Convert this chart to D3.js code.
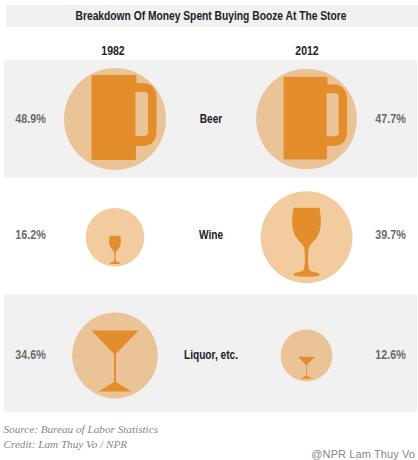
<!DOCTYPE html>
<html>
<head>
<meta charset="utf-8">
<title>Breakdown Of Money Spent Buying Booze At The Store</title>
<script src="https://cdn.jsdelivr.net/npm/d3@7/dist/d3.min.js"></script>
<style>
  html, body { margin: 0; padding: 0; background: #fff; }
  svg { display: block; }
  .cond { font-family: "Liberation Sans", sans-serif; font-weight: bold; }
  .source { font-family: "Liberation Serif", serif; font-style: italic; font-size: 11.2px; fill: #888; }
</style>
</head>
<body>
<svg id="chart" width="418" height="460"></svg>
<script>
const years = ["1982", "2012"];
const categories = ["Beer", "Wine", "Liquor, etc."];
const values1982 = [48.9, 16.2, 34.6];
const values2012 = [47.7, 39.7, 12.6];
const sourceLines = ["Source: Bureau of Labor Statistics", "Credit: Lam Thuy Vo / NPR"];

// Glyphs are drawn at the size of refValue, origin at bottom centre of the icon.
// They scale linearly with the value, the circles scale by area.
const icons = {
    "Beer": {
        refValue: 48.9,
        gap: 10,
        fillRule: "evenodd",
        d: "M-22.5,-85 L20,-85 Q21.5,-85 21.5,-83.5 L21.5,-77 L27,-77 Q41.5,-77 41.5,-62 L41.5,-29 Q41.5,-14 27,-14 L21,-14 L21,-1.5 Q21,0 19.5,0 L-22,0 Q-23.5,0 -23.5,-1.5 L-23.5,-83.5 Q-23.5,-85 -22.5,-85 Z " +
           "M20.5,-68 L20.5,-24 L29,-24 Q33,-24 33,-28 L33,-64 Q33,-68 29,-68 Z"
    },
    "Wine": {
        refValue: 39.7,
        gap: 7,
        d: "M-13,-68.5 L13,-68.5 C14.5,-58 15.5,-50 12,-42 C9,-35 3,-33 2,-27 C1.2,-18 1.5,-9 3,-6 C5,-4.5 9,-4 12,-3 Q14,-1.5 12,-0.3 Q7,0.5 0,0.5 Q-7,0.5 -12,-0.3 Q-14,-1.5 -12,-3 C-9,-4 -5,-4.5 -3,-6 C-1.5,-9 -1.2,-18 -2,-27 C-3,-33 -9,-35 -12,-42 C-15.5,-50 -14.5,-58 -13,-68.5 Z"
    },
    "Liquor, etc.": {
        refValue: 34.6,
        gap: 7,
        d: "M-23.5,-61 L23.5,-61 L1,-37.5 L1,-9.5 L16.5,0 L-16.5,0 L-1,-9.5 L-1,-37.5 Z"
    }
};

const titleText = "Breakdown Of Money Spent Buying Booze At The Store";
const orange = "#e38e2b";

const svg = d3.select("#chart");

const rowBand = d3.scaleBand().domain(categories).range([60, 412]);
const rowCenter = d3.scalePoint().domain(categories).range([119, 355.5]);
const labelBaseline = d3.scaleOrdinal().domain(categories).range([123, 239, 359]);
const yearX = d3.scalePoint().domain(years).range([115, 306.5]);
const headerX = d3.scalePoint().domain(years).range([113, 307]);
const radius = d3.scaleSqrt().domain([0, 48.9]).range([0, 51]);
const fmt = v => d3.format(".1f")(v) + "%";

// no condensed bold is installed, so squeeze the regular one sideways
const squeezed = (x, y, k) => "translate(" + x + "," + y + ") scale(" + k + ",1)";

// title band
svg.append("rect").attr("x", 6).attr("y", 5).attr("width", 412).attr("height", 22).attr("fill", "#f1f1f1");
svg.append("text").attr("class", "cond")
    .attr("transform", squeezed(211, 19.5, 0.79))
    .attr("text-anchor", "middle").attr("font-size", 13).attr("fill", "#222")
    .text(titleText);

// year headers
svg.selectAll(".year").data(years).enter().append("text")
    .attr("class", "cond year")
    .attr("transform", d => squeezed(headerX(d), 54.5, 0.84))
    .attr("text-anchor", "middle").attr("font-size", 12.5).attr("fill", "#222")
    .text(d => d);

// alternating row backgrounds
svg.selectAll(".row").data(categories.filter((d, i) => i % 2 === 0)).enter().append("rect")
    .attr("class", "row")
    .attr("x", 4).attr("width", 413)
    .attr("y", d => rowBand(d)).attr("height", rowBand.bandwidth())
    .attr("fill", "#f1f1f1");

// circles and glyphs
const cells = [];
categories.forEach((c, i) => {
    cells.push({ category: c, year: years[0], value: values1982[i] });
    cells.push({ category: c, year: years[1], value: values2012[i] });
});

svg.selectAll(".bubble").data(cells).enter().append("circle")
    .attr("class", "bubble")
    .attr("cx", d => yearX(d.year))
    .attr("cy", d => rowCenter(d.category))
    .attr("r", d => radius(d.value))
    .attr("fill", orange)
    .attr("fill-opacity", 0.45);

svg.selectAll(".icon").data(cells).enter().append("path")
    .attr("class", "icon")
    .attr("d", d => icons[d.category].d)
    .attr("fill", orange)
    .attr("fill-rule", d => icons[d.category].fillRule || "nonzero")
    .attr("transform", d => {
        const icon = icons[d.category];
        const k = d.value / icon.refValue;
        const bottom = rowCenter(d.category) + radius(d.value) - icon.gap * k;
        return "translate(" + yearX(d.year) + "," + bottom + ") scale(" + k + ")";
    });

// category labels
svg.selectAll(".cat").data(categories).enter().append("text")
    .attr("class", "cond cat")
    .attr("transform", d => squeezed(211, labelBaseline(d), 0.81))
    .attr("text-anchor", "middle").attr("font-size", 12.5).attr("fill", "#222")
    .text(d => d);

// percentage labels
svg.selectAll(".pct").data(cells).enter().append("text")
    .attr("class", "cond pct")
    .attr("transform", d => squeezed(d.year === years[0] ? 30.5 : 390.5, labelBaseline(d.category), 0.86))
    .attr("text-anchor", "middle").attr("font-size", 12.5).attr("fill", "#6a6a6a")
    .text(d => fmt(d.value));

// source
svg.selectAll(".source").data(sourceLines).enter().append("text")
    .attr("class", "source")
    .attr("x", 3.5).attr("y", (d, i) => 433 + i * 15)
    .text(d => d);

// watermark
svg.append("text")
    .attr("x", 415).attr("y", 458)
    .attr("text-anchor", "end")
    .attr("font-family", "Liberation Sans, sans-serif").attr("font-size", 11)
    .attr("letter-spacing", 0.1).attr("fill", "#888")
    .text("@NPR Lam Thuy Vo");
</script>
</body>
</html>
